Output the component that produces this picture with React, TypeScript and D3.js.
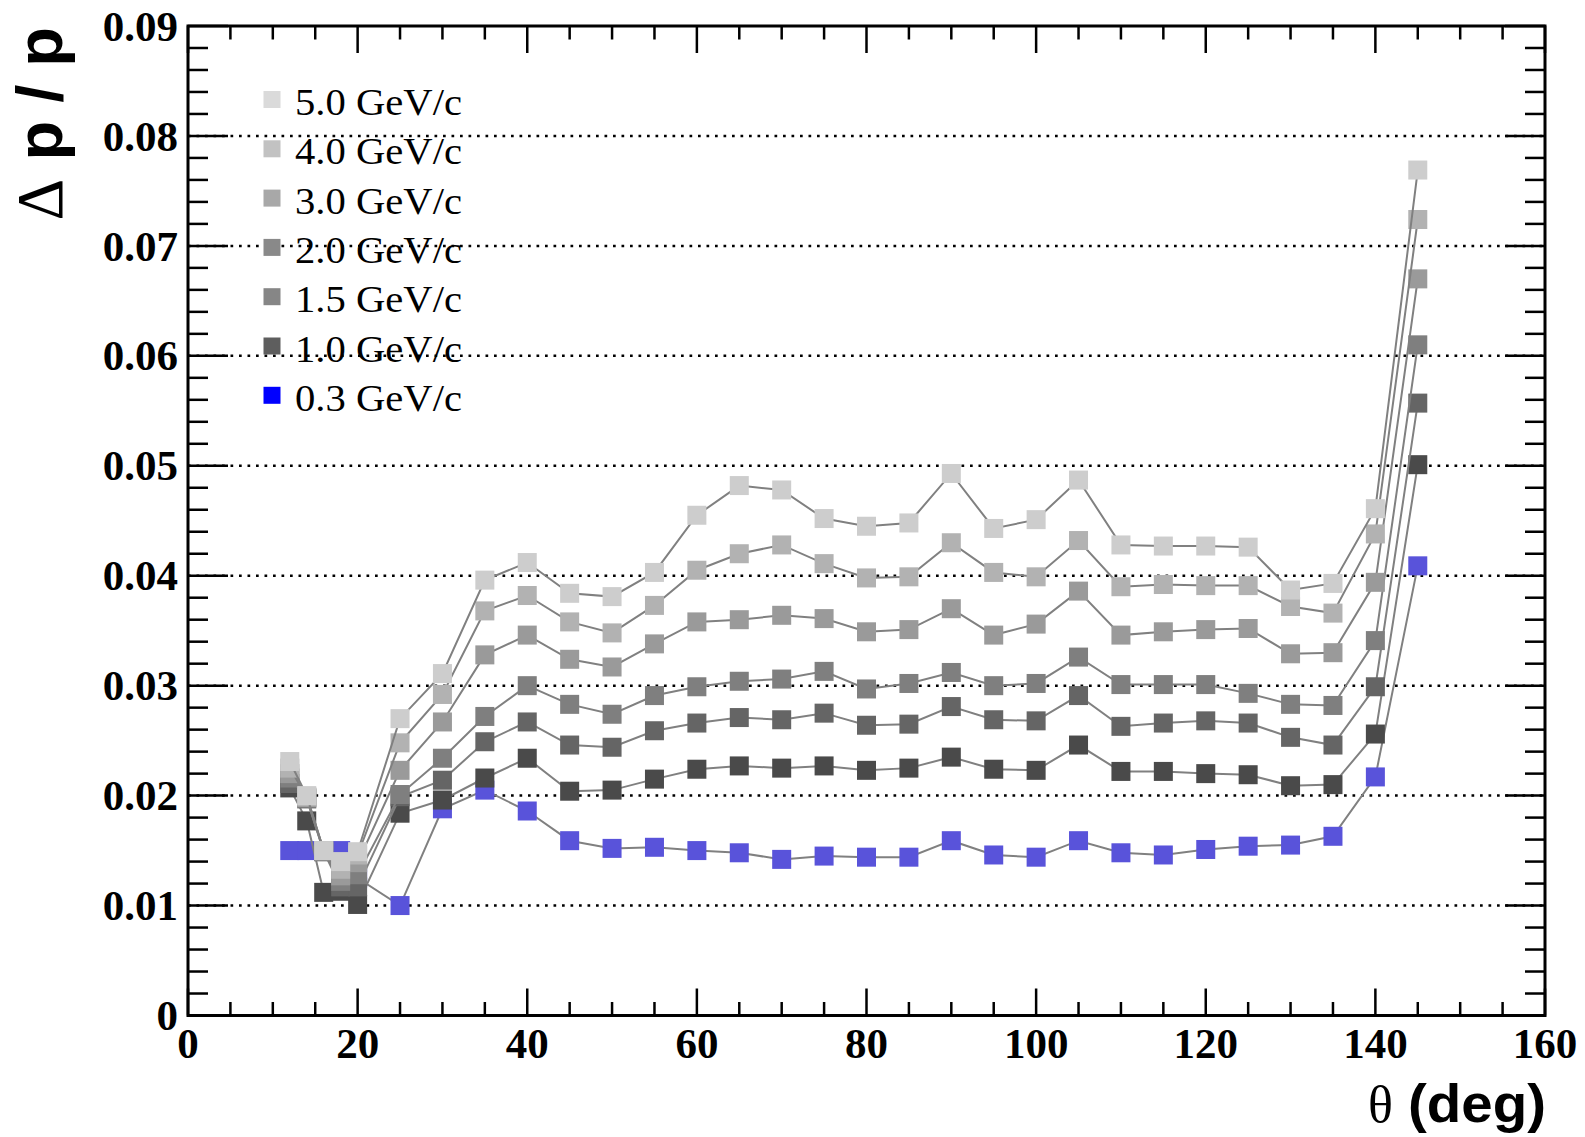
import React from "react";
import * as d3 from "d3";

const theta = [12, 14, 16, 18, 20, 25, 30, 35, 40, 45, 50, 55, 60, 65, 70, 75, 80, 85, 90, 95, 100, 105, 110, 115, 120, 125, 130, 135, 140, 145];

const p50 = [0.0231, 0.0200, 0.0150, 0.0140, 0.0149, 0.0270, 0.0311, 0.0396, 0.0412, 0.0384, 0.0381, 0.0403, 0.0455, 0.0482, 0.0478, 0.0452, 0.0445, 0.0448, 0.0493, 0.0443, 0.0451, 0.0487, 0.0428, 0.0427, 0.0427, 0.0426, 0.0387, 0.0393, 0.0461, 0.0769];
const p40 = [0.0225, 0.0199, 0.0150, 0.0133, 0.0146, 0.0248, 0.0292, 0.0368, 0.0382, 0.0358, 0.0348, 0.0373, 0.0405, 0.0420, 0.0428, 0.0411, 0.0398, 0.0399, 0.0430, 0.0403, 0.0399, 0.0432, 0.0390, 0.0392, 0.0391, 0.0391, 0.0372, 0.0366, 0.0438, 0.0724];
const p30 = [0.0220, 0.0198, 0.0150, 0.0127, 0.0139, 0.0223, 0.0267, 0.0328, 0.0346, 0.0324, 0.0317, 0.0338, 0.0358, 0.0360, 0.0364, 0.0361, 0.0349, 0.0351, 0.0370, 0.0346, 0.0356, 0.0386, 0.0346, 0.0349, 0.0351, 0.0352, 0.0329, 0.0330, 0.0394, 0.0670];
const p20 = [0.0216, 0.0198, 0.0149, 0.0122, 0.0128, 0.0201, 0.0234, 0.0272, 0.0300, 0.0283, 0.0274, 0.0291, 0.0299, 0.0304, 0.0306, 0.0313, 0.0297, 0.0302, 0.0312, 0.0300, 0.0302, 0.0326, 0.0301, 0.0301, 0.0301, 0.0293, 0.0283, 0.0282, 0.0341, 0.0610];
const p15 = [0.0211, 0.0197, 0.0149, 0.0117, 0.0117, 0.0199, 0.0214, 0.0249, 0.0267, 0.0246, 0.0244, 0.0259, 0.0266, 0.0271, 0.0269, 0.0275, 0.0264, 0.0265, 0.0281, 0.0269, 0.0268, 0.0291, 0.0263, 0.0266, 0.0268, 0.0266, 0.0253, 0.0246, 0.0299, 0.0557];
const p10 = [0.0207, 0.0177, 0.0112, 0.0113, 0.0101, 0.0184, 0.0196, 0.0216, 0.0234, 0.0204, 0.0205, 0.0215, 0.0224, 0.0227, 0.0225, 0.0227, 0.0223, 0.0225, 0.0235, 0.0224, 0.0223, 0.0246, 0.0222, 0.0222, 0.0220, 0.0219, 0.0209, 0.0210, 0.0256, 0.0501];
const p03 = [0.0150, 0.0150, 0.0150, 0.0150, 0.0125, 0.0100, 0.0188, 0.0205, 0.0186, 0.0159, 0.0152, 0.0153, 0.0150, 0.0148, 0.0142, 0.0145, 0.0144, 0.0144, 0.0159, 0.0146, 0.0144, 0.0159, 0.0148, 0.0146, 0.0151, 0.0154, 0.0155, 0.0163, 0.0217, 0.0409];

const seriesLabels = ["5.0 GeV/c", "4.0 GeV/c", "3.0 GeV/c", "2.0 GeV/c", "1.5 GeV/c", "1.0 GeV/c", "0.3 GeV/c"];
const seriesValues = [p50, p40, p30, p20, p15, p10, p03];
const markerColors = ["#cdcdcd", "#b2b2b2", "#9a9a9a", "#7f7f7f", "#656565", "#4a4a4a", "#5953da"];
const legendColors = ["#dadada", "#c2c2c2", "#a8a8a8", "#898989", "#868686", "#5e5e5e", "#0000ff"];

const xTicks = [0, 20, 40, 60, 80, 100, 120, 140, 160];
const yTicks = [0, 0.01, 0.02, 0.03, 0.04, 0.05, 0.06, 0.07, 0.08, 0.09];
const yTickLabels = ["0", "0.01", "0.02", "0.03", "0.04", "0.05", "0.06", "0.07", "0.08", "0.09"];

const W = 1585;
const H = 1137;
const L = 188, R = 1545, T = 26, B = 1015.5;

export default function App() {
  const x = d3.scaleLinear().domain([0, 160]).range([L, R]);
  const y = d3.scaleLinear().domain([0, 0.09]).range([B, T]);
  const line = d3.line<number>().x((_, i) => x(theta[i])).y((v) => y(v));

  const xMinor = d3.range(0, 161, 5).filter((v) => v % 20 !== 0);
  const yMinor = d3.range(0, 46).map((i) => i * 0.002).filter((_, i) => i % 5 !== 0);

  const ms = 19;
  const drawOrder = [6, 5, 4, 3, 2, 1, 0];

  const serif = "'Liberation Serif', 'Times New Roman', serif";
  const sans = "'Liberation Sans', Arial, sans-serif";

  return (
    <svg width={W} height={H} style={{ position: "absolute", left: 0, top: 0, background: "#fff" }}>
      <rect x={0} y={0} width={W} height={H} fill="#fff" />
      {/* grid */}
      {yTicks.slice(1, -1).map((t) => (
        <line key={"g" + t} x1={L} x2={R} y1={y(t)} y2={y(t)} stroke="#000" strokeWidth={2.5} strokeDasharray="2.7,5.8" />
      ))}
      {/* series */}
      {drawOrder.map((si) => (
        <g key={"s" + si}>
          <path d={line(seriesValues[si]) || ""} fill="none" stroke="#808080" strokeWidth={2} />
          {seriesValues[si].map((v, i) => (
            <rect key={i} x={x(theta[i]) - ms / 2} y={y(v) - ms / 2} width={ms} height={ms} fill={markerColors[si]} />
          ))}
        </g>
      ))}
      {/* frame */}
      <rect x={L} y={T} width={R - L} height={B - T} fill="none" stroke="#000" strokeWidth={3} />
      {/* y ticks */}
      {yTicks.map((t) => (
        <g key={"yt" + t}>
          <line x1={L} x2={L + 40} y1={y(t)} y2={y(t)} stroke="#000" strokeWidth={2.5} />
          <line x1={R} x2={R - 40} y1={y(t)} y2={y(t)} stroke="#000" strokeWidth={2.5} />
        </g>
      ))}
      {yMinor.map((t) => (
        <g key={"ym" + t}>
          <line x1={L} x2={L + 20} y1={y(t)} y2={y(t)} stroke="#000" strokeWidth={2.5} />
          <line x1={R} x2={R - 20} y1={y(t)} y2={y(t)} stroke="#000" strokeWidth={2.5} />
        </g>
      ))}
      {/* x ticks */}
      {xTicks.map((t) => (
        <g key={"xt" + t}>
          <line x1={x(t)} x2={x(t)} y1={B} y2={B - 27} stroke="#000" strokeWidth={2.5} />
          <line x1={x(t)} x2={x(t)} y1={T} y2={T + 27} stroke="#000" strokeWidth={2.5} />
        </g>
      ))}
      {xMinor.map((t) => (
        <g key={"xm" + t}>
          <line x1={x(t)} x2={x(t)} y1={B} y2={B - 13.5} stroke="#000" strokeWidth={2.5} />
          <line x1={x(t)} x2={x(t)} y1={T} y2={T + 13.5} stroke="#000" strokeWidth={2.5} />
        </g>
      ))}
      {/* y tick labels */}
      {yTicks.map((t, i) => (
        <text key={"yl" + t} x={178} y={y(t)} dy="0.34em" textAnchor="end" fontFamily={serif} fontWeight="bold" fontSize={43}>
          {yTickLabels[i]}
        </text>
      ))}
      {/* x tick labels */}
      {xTicks.map((t) => (
        <text key={"xl" + t} x={x(t)} y={1058} textAnchor="middle" fontFamily={serif} fontWeight="bold" fontSize={43}>
          {t}
        </text>
      ))}
      {/* y axis title */}
      <text transform={`translate(62,27) rotate(-90)`} textAnchor="end" fontFamily={sans} fontWeight="bold" fontSize={65}>
        <tspan fontFamily={serif} fontWeight="normal">Δ</tspan>
        <tspan> p / p</tspan>
      </text>
      {/* x axis title */}
      <text x={1368} y={1122} fontFamily={serif} fontSize={52}>θ</text>
      <text x={1408} y={1122} fontFamily={sans} fontWeight="bold" fontSize={54} textLength={138} lengthAdjust="spacingAndGlyphs">(deg)</text>
      {/* legend */}
      {seriesLabels.map((lab, i) => (
        <g key={"lg" + i}>
          <rect x={272 - 8.5} y={99.5 + i * 49.3 - 8.5} width={17} height={17} fill={legendColors[i]} />
          <text x={295} y={115 + i * 49.3} fontFamily={serif} fontSize={37} textLength={167} lengthAdjust="spacingAndGlyphs">
            {lab}
          </text>
        </g>
      ))}
    </svg>
  );
}
